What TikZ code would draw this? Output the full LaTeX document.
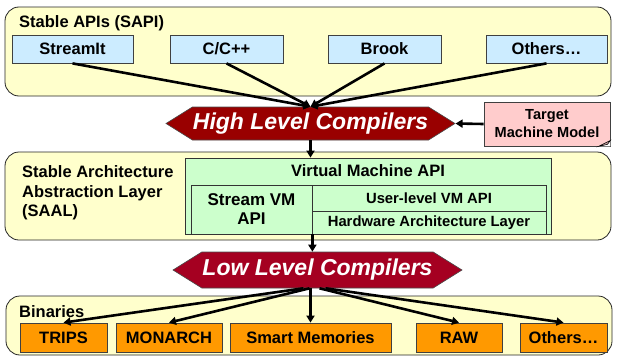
\documentclass[tikz,border=0pt]{standalone}
\usepackage{fontspec}
\setmainfont{Liberation Sans}
\usetikzlibrary{shapes.symbols,arrows.meta}

\definecolor{panelyellow}{RGB}{255,255,204}
\definecolor{apiblue}{RGB}{204,236,255}
\definecolor{vmgreen}{RGB}{204,255,204}
\definecolor{modelpink}{RGB}{255,204,204}
\definecolor{binorange}{RGB}{255,153,0}
\definecolor{hlcred}{RGB}{153,0,0}
\definecolor{llcred}{RGB}{165,0,33}

\tikzset{
  layer/.style={draw=black!85, fill=panelyellow, rounded corners=14pt, line width=0.8pt, inner sep=0pt},
  apibox/.style={draw=black!75, fill=apiblue, line width=0.8pt, inner sep=0pt, minimum height=28pt,
    font=\fontsize{16.5}{19.5}\selectfont\bfseries},
  binbox/.style={draw=black!75, fill=binorange, line width=0.8pt, inner sep=0pt, minimum height=29pt,
    font=\fontsize{16.5}{19.5}\selectfont\bfseries},
  vmbox/.style={draw=black!80, fill=vmgreen, line width=0.8pt, inner sep=0pt, align=center},
  compiler/.style={shape=signal, signal to=west and east, signal pointer angle=64, draw=black!70,
    line width=0.6pt, inner sep=0pt, text=white, minimum width=289pt,
    font=\fontsize{23}{26}\selectfont\bfseries\itshape},
  title/.style={anchor=west, inner sep=0pt, align=left, font=\fontsize{16.5}{19.5}\selectfont\bfseries},
  flow/.style={-{Triangle[length=7pt,width=8pt]}, line width=2.6pt}
}

\begin{document}
\begin{tikzpicture}[x=1pt, y=-1pt]
		\useasboundingbox (0,0) rectangle (621,356);
		% stable APIs
		\node[layer, minimum width=606pt, minimum height=89pt] (sapi) at (308,51.5) {};
		\node[title] (sapititle) at (19,23) {Stable APIs (SAPI)};
		\node[apibox, minimum width=121pt] (streamit) at (72.5,49) {StreamIt};
		\node[apibox, minimum width=113pt] (cpp) at (226.5,49) {C/C++};
		\node[apibox, minimum width=113pt] (brook) at (384.5,49) {Brook};
		\node[apibox, minimum width=121pt] (othersapi) at (546.5,49) {Others\ldots};
		% high level compilers and machine model
		\node[compiler, fill=hlcred, minimum height=33pt] (hlc) at (310.5,123.5) {High Level Compilers};
		\node[draw=black!75, fill=modelpink, line width=0.8pt, inner sep=0pt, minimum width=126pt,
		      minimum height=44pt, align=center, font=\fontsize{14.6}{18}\selectfont\bfseries]
		      (model) at (547,124) {Target\\Machine Model};
		\fill[white] ([xshift=-12pt]model.south east) -- (model.south east) -- ([yshift=6pt]model.south east) -- cycle;
		\draw[fill=modelpink!80!black, line width=0.6pt] ([xshift=-12pt]model.south east) -- ([yshift=6pt]model.south east)
		      -- ([xshift=-3pt,yshift=2pt]model.south east) -- cycle;
		% stable architecture abstraction layer
		\node[layer, minimum width=606pt, minimum height=88pt] (saal) at (308,196) {};
		\node[title] (saaltitle) at (22,193) {Stable Architecture\\Abstraction Layer\\(SAAL)};
		\node[vmbox, minimum width=366pt, minimum height=76pt] (vm) at (368,196) {};
		\node[inner sep=0pt, font=\fontsize{16.5}{19.5}\selectfont\bfseries] (vmtitle) at (368,171) {Virtual Machine API};
		\node[vmbox, minimum width=121pt, minimum height=49pt, font=\fontsize{17}{22}\selectfont\bfseries]
		      (streamvm) at (251.5,209.5) {Stream VM\\[-3pt]API};
		\node[vmbox, minimum width=234pt, minimum height=26pt, font=\fontsize{14.8}{17}\selectfont\bfseries]
		      (userapi) at (429,198) {User-level VM API};
		\node[vmbox, minimum width=234pt, minimum height=23pt, font=\fontsize{14.8}{17}\selectfont\bfseries]
		      (hwlayer) at (429,222.5) {Hardware Architecture Layer};
		% low level compilers
		\node[compiler, fill=llcred, minimum height=36pt] (llc) at (317.5,270) {Low Level Compilers};
		% binaries
		\node[layer, minimum width=606pt, minimum height=59pt] (bins) at (309,325.5) {};
		\node[title] (binstitle) at (19,312) {Binaries};
		\node[binbox, minimum width=87pt] (trips) at (63.5,337.5) {TRIPS};
		\node[binbox, minimum width=106pt] (monarch) at (169,337.5) {MONARCH};
		\node[binbox, minimum width=161pt] (smartmem) at (310.5,337.5) {Smart Memories};
		\node[binbox, minimum width=86pt] (raw) at (459,337.5) {RAW};
		\node[binbox, minimum width=87pt] (othersbin) at (563.5,337.5) {Others\ldots};
		% connectors
                \draw[flow] (streamit.south) -- (hlc.north);
                \draw[flow] (cpp.south) -- (hlc.north);
                \draw[flow] (brook.south) -- (hlc.north);
                \draw[flow] (othersapi.south) -- (hlc.north);
                \draw[flow] (model.west) -- (hlc.east);
                \draw[flow] (hlc.south) -- (hlc.south |- vm.north);
                \draw[flow] (streamvm.south east) -- (streamvm.south east |- llc.north);
                \draw[flow] ([xshift=-14pt]llc.south) -- (trips.north);
                \draw[flow] ([xshift=-8pt]llc.south) -- (monarch.north);
                \draw[flow] (smartmem.north |- llc.south) -- (smartmem.north);
                \draw[flow] ([xshift=2pt]llc.south) -- (raw.north);
                \draw[flow] ([xshift=8pt]llc.south) -- (othersbin.north);
		\end{tikzpicture}
\end{document}
